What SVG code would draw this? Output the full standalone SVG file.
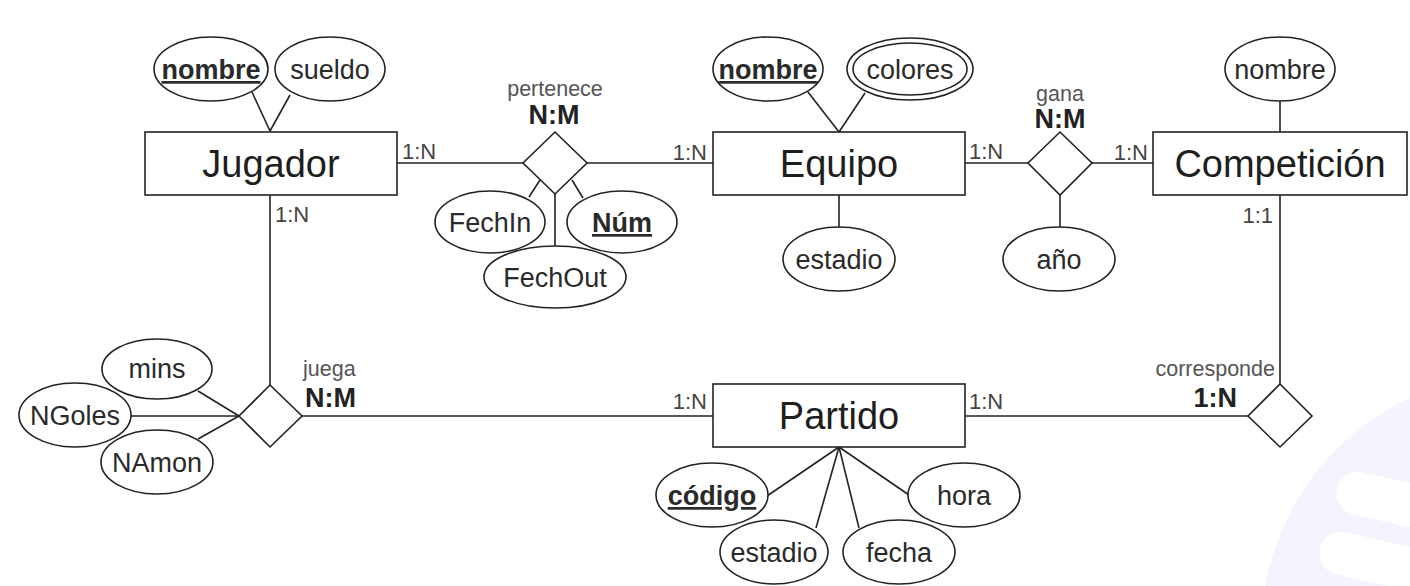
<svg xmlns="http://www.w3.org/2000/svg" width="1410" height="586" viewBox="0 0 1410 586">
<style>
  text { font-family: "Liberation Sans", Arial, sans-serif; }
  .ent { fill: #fff; stroke: #222; stroke-width: 1.6; }
  .att { fill: #fff; stroke: #222; stroke-width: 1.6; }
  .rel { fill: #fff; stroke: #222; stroke-width: 1.6; }
  .conn line { stroke: #222; stroke-width: 1.6; }
  .et { font-size: 38px; fill: #1e1e1e; text-anchor: middle; }
  .at { font-size: 27px; fill: #2a2a2a; text-anchor: middle; }
  .key { font-weight: bold; text-decoration: underline; }
  .card { font-size: 22px; fill: #444; }
  .rname { font-size: 21.5px; fill: #555; }
  .rcard { font-size: 27px; font-weight: bold; fill: #222; }
</style>
<rect width="1410" height="586" fill="#fff"/>
<g id="watermark">
  <circle cx="1520" cy="632" r="259" fill="#f5f3fd"/>
  <rect x="1337" y="467" width="220" height="43" rx="21.5" fill="#fff" transform="rotate(13 1337 488)"/>
  <rect x="1320" y="527" width="220" height="43" rx="21.5" fill="#fff" transform="rotate(13 1320 548)"/>
</g>
<g id="connectors" class="conn">
  <line x1="252" y1="92" x2="270" y2="131"/>
  <line x1="290" y1="95" x2="270" y2="131"/>
  <line x1="397" y1="163" x2="523" y2="163"/>
  <line x1="587" y1="163" x2="713" y2="163"/>
  <line x1="540" y1="180" x2="529" y2="197"/>
  <line x1="572" y1="180" x2="583" y2="198"/>
  <line x1="555" y1="194" x2="555" y2="246"/>
  <line x1="808" y1="92" x2="839" y2="132"/>
  <line x1="865" y1="93" x2="839" y2="132"/>
  <line x1="839" y1="195" x2="839" y2="227"/>
  <line x1="965" y1="163" x2="1028" y2="163"/>
  <line x1="1092" y1="163" x2="1153" y2="163"/>
  <line x1="1060" y1="195" x2="1060" y2="227"/>
  <line x1="1280" y1="100" x2="1280" y2="132"/>
  <line x1="1280" y1="195" x2="1280" y2="384"/>
  <line x1="965" y1="416" x2="1248" y2="416"/>
  <line x1="270" y1="195" x2="270" y2="385"/>
  <line x1="302" y1="416" x2="713" y2="416"/>
  <line x1="198" y1="391" x2="239" y2="416"/>
  <line x1="131" y1="416" x2="239" y2="416"/>
  <line x1="198" y1="439" x2="239" y2="416"/>
  <line x1="839" y1="447" x2="767" y2="496"/>
  <line x1="839" y1="447" x2="816" y2="528"/>
  <line x1="839" y1="447" x2="859" y2="528"/>
  <line x1="839" y1="447" x2="909" y2="495"/>
</g>
<g id="jugador">
  <rect class="ent" x="145" y="132" width="252" height="63"/>
  <text class="et" x="271" y="177">Jugador</text>
</g>
<g id="jugador-nombre">
  <ellipse class="att" cx="211" cy="69" rx="57" ry="32"/>
  <text class="at key" x="211" y="79">nombre</text>
</g>
<g id="jugador-sueldo">
  <ellipse class="att" cx="330" cy="69" rx="55" ry="32"/>
  <text class="at" x="330" y="79">sueldo</text>
</g>
<g id="pertenece">
  <polygon class="rel" points="555,132 587,163 555,194 523,163"/>
  <text class="rname" x="555" y="96" text-anchor="middle">pertenece</text>
  <text class="rcard" x="554" y="124" text-anchor="middle">N:M</text>
</g>
<g id="fechin">
  <ellipse class="att" cx="490" cy="222" rx="55" ry="31"/>
  <text class="at" x="490" y="232">FechIn</text>
</g>
<g id="num">
  <ellipse class="att" cx="622" cy="222" rx="55" ry="31"/>
  <text class="at key" x="622" y="232">Núm</text>
</g>
<g id="fechout">
  <ellipse class="att" cx="555" cy="277" rx="71" ry="31"/>
  <text class="at" x="555" y="287">FechOut</text>
</g>
<g id="equipo">
  <rect class="ent" x="713" y="132" width="252" height="63"/>
  <text class="et" x="839" y="177">Equipo</text>
</g>
<g id="equipo-nombre">
  <ellipse class="att" cx="768" cy="69" rx="55" ry="32"/>
  <text class="at key" x="768" y="79">nombre</text>
</g>
<g id="equipo-colores">
  <ellipse class="att" cx="910" cy="69" rx="63" ry="31"/>
  <ellipse class="att" cx="910" cy="69" rx="57" ry="26"/>
  <text class="at" x="910" y="79">colores</text>
</g>
<g id="equipo-estadio">
  <ellipse class="att" cx="839" cy="259" rx="56" ry="32"/>
  <text class="at" x="839" y="269">estadio</text>
</g>
<g id="gana">
  <polygon class="rel" points="1060,132 1092,163 1060,195 1028,163"/>
  <text class="rname" x="1060" y="101" text-anchor="middle">gana</text>
  <text class="rcard" x="1060" y="128" text-anchor="middle">N:M</text>
</g>
<g id="anio">
  <ellipse class="att" cx="1059" cy="259" rx="56" ry="32"/>
  <text class="at" x="1059" y="269">año</text>
</g>
<g id="competicion">
  <rect class="ent" x="1153" y="132" width="254" height="63"/>
  <text class="et" x="1280" y="177">Competición</text>
</g>
<g id="competicion-nombre">
  <ellipse class="att" cx="1280" cy="69" rx="55" ry="32"/>
  <text class="at" x="1280" y="79">nombre</text>
</g>
<g id="corresponde">
  <polygon class="rel" points="1280,384 1312,416 1280,447 1248,416"/>
  <text class="rname" x="1275" y="376" text-anchor="end">corresponde</text>
  <text class="rcard" x="1237" y="407" text-anchor="end">1:N</text>
</g>
<g id="juega">
  <polygon class="rel" points="270,385 302,416 270,447 239,416"/>
  <text class="rname" x="303" y="376">juega</text>
  <text class="rcard" x="305" y="407">N:M</text>
</g>
<g id="mins">
  <ellipse class="att" cx="157" cy="369" rx="55" ry="30"/>
  <text class="at" x="157" y="378">mins</text>
</g>
<g id="ngoles">
  <ellipse class="att" cx="75" cy="415" rx="56" ry="32"/>
  <text class="at" x="75" y="425">NGoles</text>
</g>
<g id="namon">
  <ellipse class="att" cx="157" cy="462" rx="56" ry="32"/>
  <text class="at" x="157" y="472">NAmon</text>
</g>
<g id="partido">
  <rect class="ent" x="713" y="384" width="252" height="63"/>
  <text class="et" x="839" y="429">Partido</text>
</g>
<g id="codigo">
  <ellipse class="att" cx="712" cy="495" rx="56" ry="32"/>
  <text class="at key" x="712" y="505">código</text>
</g>
<g id="partido-estadio">
  <ellipse class="att" cx="774" cy="552" rx="54" ry="32"/>
  <text class="at" x="774" y="562">estadio</text>
</g>
<g id="fecha">
  <ellipse class="att" cx="899" cy="552" rx="56" ry="32"/>
  <text class="at" x="899" y="562">fecha</text>
</g>
<g id="hora">
  <ellipse class="att" cx="964" cy="495" rx="56" ry="32"/>
  <text class="at" x="964" y="505">hora</text>
</g>
<g id="cardinalities">
  <text class="card" x="402" y="159">1:N</text>
  <text class="card" x="707" y="160" text-anchor="end">1:N</text>
  <text class="card" x="969" y="159">1:N</text>
  <text class="card" x="1148" y="160" text-anchor="end">1:N</text>
  <text class="card" x="1273" y="223" text-anchor="end">1:1</text>
  <text class="card" x="275" y="222">1:N</text>
  <text class="card" x="707" y="409" text-anchor="end">1:N</text>
  <text class="card" x="969" y="409">1:N</text>
</g>
</svg>
